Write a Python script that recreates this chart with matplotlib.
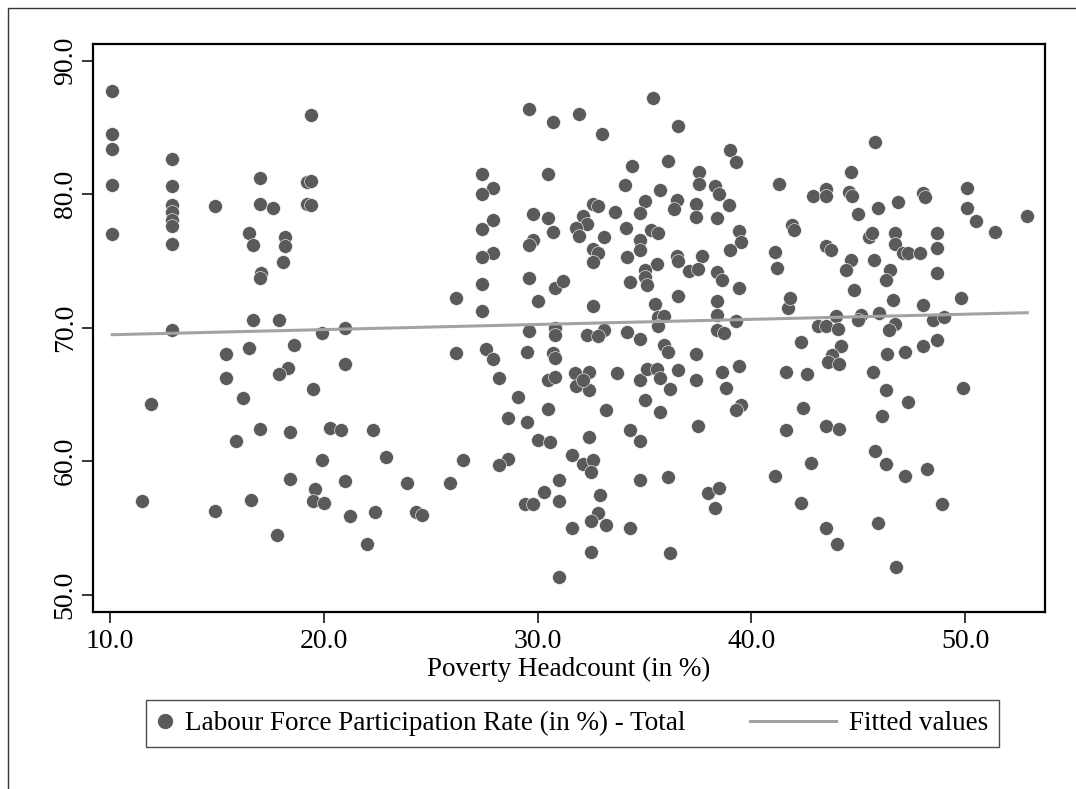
import numpy as np
import matplotlib
matplotlib.use("Agg")
import matplotlib.pyplot as plt
from matplotlib.lines import Line2D
from matplotlib.patches import Rectangle
from matplotlib.legend_handler import HandlerBase

plt.rcParams['font.family'] = ['Liberation Serif', 'DejaVu Serif']

# values
poverty = [
    10.1, 10.1, 10.1, 10.1, 10.1, 12.9, 12.9, 12.9, 12.9, 12.9, 12.9, 12.9, 12.9,
    14.9, 17.0, 17.0, 17.6, 16.5, 16.7, 18.2, 18.2, 18.1, 17.05, 17.0, 16.7, 17.9,
    19.4, 19.2, 19.4, 19.2, 19.4, 19.9, 18.6, 15.4, 16.5, 15.4, 18.3, 17.9, 16.2,
    11.9, 19.5, 17.0, 18.4, 15.9, 19.9, 18.4, 19.6, 19.5, 20.0, 11.5, 14.9, 16.6,
    17.8,
    29.6, 30.7, 27.4, 30.5, 27.9, 27.4, 27.9, 27.4, 29.8, 30.5, 30.7, 29.8, 29.6,
    27.9, 27.4, 27.4, 29.6, 30.8, 26.2, 30.0, 27.4, 21.0, 29.6, 30.8, 30.8, 21.0,
    26.2, 27.6, 27.9, 28.2, 29.5, 30.7, 30.8, 29.1, 30.5, 28.6, 29.5, 30.5, 30.8,
    30.0, 30.6, 20.3, 20.8, 22.3, 22.9, 26.5, 28.6, 28.2, 21.0, 23.9, 25.9, 21.2,
    22.4, 24.3, 24.6, 22.0, 31.0, 30.3, 29.4, 29.8, 31.0, 31.0,
    35.4, 31.95, 33.0, 36.55, 39.0, 39.3, 34.4, 36.1, 34.1, 35.7, 37.55, 37.55,
    38.3, 38.5, 41.3, 32.6, 32.8, 33.6, 35.0, 34.8, 36.5, 36.4, 37.4, 37.4, 38.95,
    38.4, 32.1, 32.3, 31.8, 31.95, 33.1, 34.15, 35.3, 35.65, 34.8, 34.8, 32.6,
    32.8, 32.6, 34.2, 35.6, 36.5, 36.55, 37.7, 37.1, 37.5, 39.4, 39.5, 39.0, 41.1,
    41.2, 38.4, 38.6, 35.0, 35.0, 35.1, 34.3, 31.2, 39.4, 36.55, 32.6, 35.5, 38.4,
    38.4, 35.65, 35.9, 35.65, 39.3, 41.7, 41.8, 32.3, 33.1, 32.8, 34.2, 34.8, 38.4,
    38.7, 35.9,
    36.1, 37.4, 31.75, 32.4, 31.8, 32.4, 32.1, 33.7, 34.8, 35.1, 35.6, 35.7, 36.55,
    36.2, 37.4, 38.6, 39.4, 38.8, 41.6, 35.0, 33.2, 35.7, 39.5, 39.3, 37.5, 41.6,
    34.3, 34.8, 32.4, 31.6, 32.1, 32.6, 32.5, 34.8, 36.1, 41.1, 32.9, 37.95, 38.5,
    38.3, 32.8, 32.5, 31.6, 33.2, 34.3, 32.5, 36.2,
    45.8, 44.65, 42.9, 43.5, 43.5, 44.55, 44.7, 45.0, 45.9, 46.85, 48.0, 48.1,
    50.1, 50.1, 50.5, 51.4, 52.9, 41.9, 42.0, 43.5, 43.7, 45.5, 45.65, 46.7, 46.7,
    47.1, 47.3, 47.9, 48.7, 48.7, 44.65, 44.4, 45.75, 46.5, 46.3, 48.7, 44.8, 46.6,
    48.0, 49.8, 43.95, 43.1, 43.5, 44.05, 45.1, 45.0, 45.95, 46.7, 46.45, 48.5,
    49.0, 42.3, 48.7,
    44.2, 43.75, 43.6, 44.1, 46.35, 47.2, 48.0, 42.6, 45.7, 46.3, 47.3, 49.9, 42.4,
    46.1, 43.5, 44.1, 45.8, 46.3, 47.2, 48.2, 42.8, 42.3, 48.9, 43.5, 45.9, 44.0,
    46.75,
]
lfpr = [
    87.7, 84.5, 83.4, 80.7, 77.0, 82.6, 80.6, 79.2, 78.7, 78.1, 77.6, 76.3, 69.8,
    79.1, 81.2, 79.3, 79.0, 77.1, 76.2, 76.8, 76.1, 74.9, 74.1, 73.7, 70.6, 70.6,
    85.9, 80.9, 81.0, 79.3, 79.2, 69.6, 68.7, 68.0, 68.5, 66.2, 67.0, 66.5, 64.7,
    64.3, 65.4, 62.4, 62.2, 61.5, 60.1, 58.7, 57.9, 57.0, 56.9, 57.0, 56.3, 57.1,
    54.5,
    86.4, 85.4, 81.5, 81.5, 80.5, 80.0, 78.1, 77.4, 78.5, 78.2, 77.2, 76.6, 76.2,
    75.6, 75.3, 73.3, 73.7, 73.0, 72.2, 72.0, 71.25, 70.0, 69.75, 69.95, 69.45, 67.3,
    68.1, 68.4, 67.65, 66.2, 68.2, 68.1, 67.7, 64.8, 63.9, 63.2, 62.9, 66.1, 66.3,
    61.6, 61.4, 62.5, 62.3, 62.3, 60.3, 60.1, 60.2, 59.7, 58.5, 58.4, 58.4, 55.9,
    56.2, 56.2, 56.0, 53.8, 58.6, 57.7, 56.8, 56.8, 57.0, 51.3,
    87.2, 86.0, 84.5, 85.1, 83.3, 82.4, 82.1, 82.5, 80.7, 80.3, 81.7, 80.8,
    80.6, 80.0, 80.8, 79.3, 79.1, 78.7, 79.5, 78.6, 79.6, 78.9, 79.3, 78.3, 79.2,
    78.2, 78.4, 77.8, 77.45, 76.9, 76.8, 77.5, 77.3, 77.1, 76.6, 75.8, 75.9,
    75.6, 74.9, 75.3, 74.75, 75.4, 75.0, 75.4, 74.25, 74.4, 77.25, 76.4, 75.8, 75.7,
    74.5, 74.2, 73.55, 74.3, 73.8, 73.2, 73.4, 73.5, 72.95, 72.4, 71.6, 71.8, 72.0,
    70.95, 70.8, 70.9, 70.1, 70.5, 71.5, 72.2, 69.45, 69.8, 69.4, 69.65, 69.15, 69.8,
    69.6, 68.7,
    68.2, 68.0, 66.6, 66.7, 65.6, 65.3, 66.1, 66.6, 66.1, 66.9, 66.9, 66.2, 66.8,
    65.4, 66.1, 66.7, 67.1, 65.5, 66.7, 64.6, 63.8, 63.7, 64.2, 63.8, 62.6, 62.3,
    62.3, 61.5, 61.8, 60.5, 59.8, 60.1, 59.2, 58.6, 58.8, 58.9, 57.5, 57.6, 58.0,
    56.5, 56.1, 55.5, 55.0, 55.2, 55.0, 53.2, 53.1,
    83.9, 81.7, 79.9, 80.4, 79.9, 80.2, 79.9, 78.5, 79.0, 79.4, 80.1, 79.8,
    80.5, 79.0, 78.0, 77.2, 78.4, 77.7, 77.3, 76.1, 75.8, 76.8, 77.1, 77.1, 76.3,
    75.6, 75.6, 75.6, 77.1, 76.0, 75.1, 74.3, 75.05, 74.3, 73.6, 74.1, 72.8, 72.1,
    71.7, 72.25, 70.9, 70.15, 70.1, 69.9, 70.95, 70.6, 71.1, 70.3, 69.8, 70.6,
    70.8, 68.9, 69.1,
    68.6, 67.95, 67.45, 67.3, 68.0, 68.2, 68.6, 66.5, 66.7, 65.3, 64.4, 65.5, 64.0,
    63.4, 62.6, 62.4, 60.8, 59.8, 58.9, 59.4, 59.9, 56.9, 56.8, 55.0, 55.4, 53.8,
    52.05,
]
x_ticks = [10, 20, 30, 40, 50]
y_ticks = [50, 60, 70, 80, 90]

x = np.array(poverty)
y = np.array(lfpr)
slope, intercept = np.polyfit(x, y, 1)
xf = np.array([x.min(), x.max()])
yf = intercept + slope * xf

dot_color = '#5a5a5a'
line_color = '#a3a3a3'

fig = plt.figure(figsize=(10.76, 7.89), dpi=100)
ax = fig.add_axes([0.0864, 0.2243, 0.8848, 0.7199])

ax.scatter(x, y, s=100, color=dot_color, edgecolors='white', linewidths=0.4, zorder=2)
ax.plot(xf, yf, color=line_color, lw=2.2, zorder=3)

ax.set_xlim(9.2, 53.73)
ax.set_ylim(48.7, 91.25)
ax.set_xticks(x_ticks)
ax.set_xticklabels([f"{v:.1f}" for v in x_ticks])
ax.set_yticks(y_ticks)
ax.set_yticklabels([f"{v:.1f}" for v in y_ticks], rotation=90, va='center')
ax.tick_params(direction='out', length=8, width=1.1, labelsize=20, pad=3)
ax.tick_params(axis='x', pad=4)
for s in ax.spines.values():
    s.set_linewidth(1.6)
ax.set_xlabel("Poverty Headcount (in %)", fontsize=19.5, labelpad=2)


class LongLine(HandlerBase):
    def create_artists(self, legend, orig, xdescent, ydescent, width, height, fontsize, trans):
        ln = Line2D([-width * 4.3, width], [height / 2, height / 2],
                    color=orig.get_color(), lw=orig.get_linewidth(), transform=trans)
        return [ln]


h1 = Line2D([], [], marker='o', ls='none', color=dot_color, markersize=10)
h2 = Line2D([], [], color=line_color, lw=2.2)
leg = fig.legend([h1, h2],
                 ["Labour Force Participation Rate (in %) - Total", "Fitted values"],
                 ncol=2, loc='center', bbox_to_anchor=(0.532, 0.083),
                 fontsize=19.5, frameon=True, fancybox=False, edgecolor='#222222',
                 handlelength=0.6, handletextpad=0.45, columnspacing=4.96,
                 borderpad=0.4, borderaxespad=0, handler_map={h2: LongLine()})
leg.get_frame().set_linewidth(1.0)

fig.patches.append(Rectangle((8 / 1076, -0.1), 1.2, 1 - 8 / 789 + 0.1,
                             transform=fig.transFigure, fill=False,
                             edgecolor='#333333', lw=1.0))

fig.savefig("out.png", dpi=100)
